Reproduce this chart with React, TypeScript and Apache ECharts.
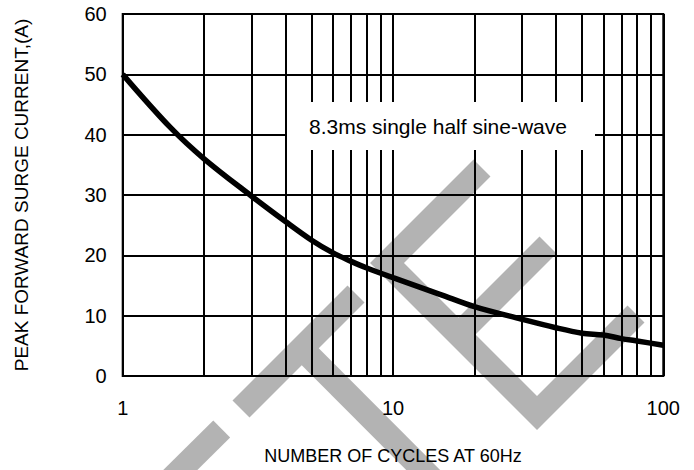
import React, { useEffect, useRef } from "react";
import * as echarts from "echarts";

const cycles = [1, 1.5, 2, 3, 4, 5, 6, 7, 8, 10, 15, 20, 30, 40, 50, 60, 70, 80, 100];
const current = [50, 41.2, 36.0, 29.8, 25.6, 22.5, 20.4, 19.0, 17.9, 16.3, 13.5, 11.5, 9.4, 8.0, 7.1, 6.8, 6.2, 5.8, 5.1];
const minorGridX = [2, 3, 4, 5, 6, 7, 8, 9, 20, 30, 40, 50, 60, 70, 80, 90];
const yTicks = { min: 0, max: 60, interval: 10 };
const xTitle = "NUMBER OF CYCLES AT 60Hz";
const yTitle = "PEAK FORWARD SURGE CURRENT,(A)";
const noteText = "8.3ms single half sine-wave";

const FONT = "'Liberation Sans', Arial, Helvetica, sans-serif";
const GRAY = "#b3b3b3";
const WM = 24;

export default function App() {
  const ref = useRef<HTMLDivElement>(null);
  useEffect(() => {
    document.body.style.margin = "0";
    const chart = echarts.init(ref.current!, undefined, { renderer: "svg" });
    const wmLine = (points: number[][]) => ({
      type: "polyline",
      z: -5,
      silent: true,
      shape: { points },
      style: { stroke: GRAY, lineWidth: WM, fill: null, lineCap: "butt", lineJoin: "miter" },
    });
    chart.setOption({
      animation: false,
      backgroundColor: "#ffffff",
      textStyle: { fontFamily: FONT },
      grid: {
        left: 122.7,
        right: 30.7,
        top: 14,
        bottom: 94,
        show: true,
        borderColor: "#000",
        borderWidth: 2,
        backgroundColor: "transparent",
      },
      xAxis: {
        type: "log",
        logBase: 10,
        min: 1,
        max: 100,
        name: xTitle,
        nameLocation: "middle",
        nameGap: 71,
        nameTextStyle: { fontSize: 18, color: "#000", fontFamily: FONT },
        axisLine: { show: false },
        axisTick: { show: false },
        axisLabel: { fontSize: 20, color: "#000", margin: 22, fontFamily: FONT },
        splitLine: { show: true, lineStyle: { color: "#000", width: 2 } },
        minorTick: { show: false },
        minorSplitLine: { show: false },
      },
      yAxis: {
        type: "value",
        min: yTicks.min,
        max: yTicks.max,
        interval: yTicks.interval,
        name: yTitle,
        nameLocation: "middle",
        nameGap: 92,
        nameTextStyle: { fontSize: 19, color: "#000", fontFamily: FONT },
        axisLine: { show: false },
        axisTick: { show: false },
        axisLabel: { fontSize: 20, color: "#000", margin: 16, fontFamily: FONT },
        splitLine: { show: true, lineStyle: { color: "#000", width: 2 } },
      },
      series: [
        {
          type: "line",
          data: cycles.map((c, i) => [c, current[i]]),
          smooth: 0.35,
          showSymbol: false,
          symbol: "none",
          lineStyle: { color: "#000", width: 5.5 },
          z: 5,
          markLine: {
            silent: true,
            symbol: ["none", "none"],
            label: { show: false },
            lineStyle: { color: "#000", width: 2, type: "solid" },
            data: minorGridX.map((v) => ({ xAxis: v })),
            z: 1,
          },
        },
      ],
      graphic: [
        wmLine([[150, 500], [221.7, 429]]),
        wmLine([[241, 409], [356, 294]]),
        wmLine([[301.75, 348.25], [490, 537]]),
        wmLine([[482, 168], [387, 263], [537, 413], [636, 314]]),
        wmLine([[458.5, 334.5], [548, 245]]),
        {
          type: "rect",
          z: 50,
          silent: true,
          shape: { x: 287, y: 102, width: 308, height: 48 },
          style: { fill: "#fff" },
        },
        {
          type: "text",
          z: 51,
          silent: true,
          x: 309,
          y: 126,
          style: {
            text: noteText,
            fontSize: 21,
            fontFamily: FONT,
            fill: "#000",
            textAlign: "left",
            textVerticalAlign: "middle",
          },
        },
      ],
    });
    return () => chart.dispose();
  }, []);
  return <div ref={ref} style={{ width: 694, height: 470 }} />;
}
